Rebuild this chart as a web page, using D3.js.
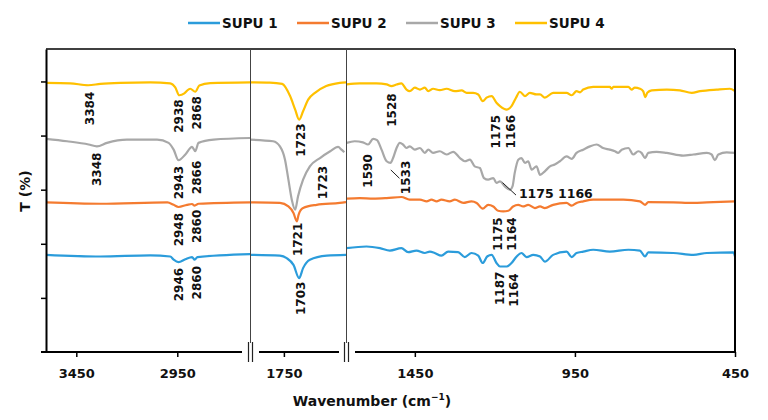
<!DOCTYPE html>
<html>
<head>
<meta charset="utf-8">
<script src="https://cdn.jsdelivr.net/npm/d3@7"></script>
<style>
  body { margin: 0; background: #fff; }
  svg text { font-family: "DejaVu Sans", Verdana, sans-serif; font-weight: bold; fill: #111; }
</style>
</head>
<body>
<script>
var series = ["SUPU 1", "SUPU 2", "SUPU 3", "SUPU 4"];
var colors = ["#2b9cdb", "#f47b30", "#a8a8a8", "#ffc000"];

var tickHigh = [3450, 2950];
var tickMid = [1750];
var tickLow = [1450, 950, 450];

// [wavenumber, T], one array per series and axis segment
var s1High = [[3600,35.9],[3331,35.3],[3084,35.7],[2985,35.3],[2968,34.1],[2944,33.2],[2910,34.3],[2877,35.1],[2864,34.1],[2850,35.1],[2590,36.2]];
var s2High = [[3600,55.3],[3331,54.8],[2999,55.3],[2968,54.4],[2944,53.6],[2902,54.4],[2877,54.7],[2864,54.1],[2845,54.8],[2590,55.3]];
var s3High = [[3600,78.8],[3496,77.9],[3389,76.7],[3348,76.0],[3298,77.3],[3199,78.5],[3050,78.5],[2993,77.3],[2968,74.8],[2944,70.9],[2910,73.0],[2877,75.8],[2861,74.2],[2845,77.3],[2770,78.5],[2590,79.1]];
var s4High = [[3600,99.5],[3480,99.3],[3391,98.6],[3331,99.1],[3232,99.5],[3084,99.7],[2985,99.3],[2960,97.8],[2940,94.9],[2915,95.6],[2895,97.0],[2886,97.3],[2861,96.2],[2841,98.5],[2787,99.4],[2590,99.7]];

var s1Mid = [[1810,35.9],[1757,35.6],[1745,34.7],[1733,32.2],[1723,27.3],[1716,31.0],[1704,34.1],[1674,35.6],[1640,35.9]];
var s2Mid = [[1810,55.3],[1757,55.1],[1742,53.8],[1733,51.4],[1727,48.3],[1724,50.7],[1716,53.2],[1692,54.4],[1651,55.1],[1640,55.4]];
var s3Mid = [[1810,78.5],[1769,77.9],[1757,76.0],[1748,71.1],[1742,63.7],[1736,56.3],[1730,52.6],[1725,57.5],[1716,63.7],[1704,68.6],[1686,71.7],[1668,74.2],[1654,75.8],[1648,74.8],[1643,73.8]];
var s4Mid = [[1810,99.7],[1775,99.6],[1753,99.1],[1739,94.6],[1730,89.6],[1723,85.9],[1716,89.0],[1707,93.3],[1695,95.8],[1675,98.3],[1651,99.5],[1640,99.7]];

var s1Low = [[1663,38.4],[1601,39.0],[1559,38.4],[1528,37.5],[1492,38.4],[1471,36.9],[1445,37.5],[1419,36.6],[1403,37.1],[1388,36.6],[1367,35.6],[1346,37.1],[1315,36.9],[1294,35.1],[1273,36.6],[1252,35.6],[1238,32.9],[1224,35.3],[1210,35.9],[1195,32.9],[1184,31.6],[1163,31.6],[1148,32.9],[1132,35.3],[1117,36.6],[1101,35.1],[1080,35.9],[1059,35.3],[1044,33.4],[1018,35.9],[976,37.1],[960,35.1],[945,36.6],[924,37.1],[893,37.8],[841,37.1],[783,37.8],[747,37.5],[731,35.3],[721,36.8],[643,36.6],[580,35.9],[538,36.6],[455,36.8],[450,35.3]];
var s2Low = [[1663,56.7],[1622,56.9],[1580,56.7],[1538,56.9],[1492,57.3],[1466,56.3],[1434,56.3],[1413,55.7],[1398,56.3],[1382,55.7],[1367,56.3],[1341,55.7],[1325,56.3],[1299,55.1],[1273,55.7],[1257,55.1],[1238,53.0],[1221,54.4],[1205,53.8],[1190,52.2],[1174,52.0],[1158,52.2],[1143,53.8],[1127,54.4],[1112,53.8],[1096,54.4],[1075,53.2],[1059,53.8],[1044,53.2],[1018,54.4],[976,55.1],[960,54.1],[945,55.1],[924,55.7],[893,56.3],[799,56.3],[747,55.7],[731,54.4],[721,55.4],[643,55.3],[580,55.1],[538,55.3],[450,55.7]];
var s3Low = [[1663,77.3],[1638,77.9],[1612,77.5],[1596,76.7],[1580,78.8],[1568,78.3],[1554,74.8],[1538,70.5],[1526,69.9],[1518,71.7],[1507,75.4],[1497,77.3],[1487,76.7],[1476,75.4],[1466,76.0],[1450,74.8],[1434,75.4],[1419,73.6],[1408,74.8],[1393,73.6],[1372,74.2],[1351,73.0],[1330,74.0],[1309,71.7],[1294,70.5],[1278,71.1],[1263,68.6],[1247,68.0],[1234,64.3],[1221,63.7],[1205,64.3],[1195,62.5],[1184,63.1],[1169,61.2],[1153,60.0],[1145,61.2],[1138,66.2],[1127,71.1],[1117,71.7],[1106,69.9],[1096,70.5],[1085,67.4],[1070,68.6],[1059,65.5],[1044,66.8],[1028,68.6],[1013,69.3],[997,70.5],[976,72.3],[960,71.4],[945,73.6],[924,74.8],[903,76.0],[882,76.7],[862,75.4],[841,74.8],[825,74.2],[815,73.6],[804,74.8],[783,75.4],[768,73.0],[752,74.2],[742,73.6],[731,71.7],[721,73.6],[695,74.0],[663,73.6],[612,72.6],[580,73.0],[538,73.6],[523,73.0],[513,70.9],[502,73.0],[476,73.8],[450,73.6]];
var s4Low = [[1663,98.9],[1622,99.3],[1570,99.3],[1538,98.9],[1523,98.3],[1507,98.9],[1492,99.3],[1476,97.0],[1466,96.4],[1450,97.7],[1434,97.0],[1419,97.7],[1408,96.4],[1393,97.3],[1372,96.8],[1351,97.3],[1325,96.4],[1304,96.7],[1288,95.8],[1268,95.8],[1252,95.2],[1238,92.7],[1226,94.0],[1210,94.6],[1195,92.1],[1184,90.9],[1163,89.6],[1148,90.9],[1134,94.0],[1122,96.2],[1106,94.6],[1091,95.8],[1070,95.2],[1059,95.2],[1044,94.0],[1018,95.8],[976,95.8],[960,94.9],[945,96.4],[934,96.0],[924,97.0],[893,98.0],[841,98.0],[835,97.3],[830,98.0],[783,98.0],[773,97.0],[763,97.7],[747,97.3],[737,96.4],[730,94.2],[724,95.8],[710,96.7],[663,97.0],[622,96.7],[585,95.8],[559,96.4],[507,97.0],[466,97.3],[450,96.4]];

// peak labels: text, segment, wavenumber of label centre, T at label top
var peakLabels = [
  ["3384", 0, 3385, 96.2], ["2938", 0, 2941, 93.4], ["2868", 0, 2852, 94.6],
  ["3348", 0, 3348, 73.7], ["2943", 0, 2941, 68.8], ["2866", 0, 2852, 70.7],
  ["2948", 0, 2941, 51.4], ["2860", 0, 2852, 52.6],
  ["2946", 0, 2941, 31.1], ["2860", 0, 2852, 31.8],
  ["1723", 1, 1720, 84.5], ["1723", 1, 1681, 68.8], ["1721", 1, 1725, 47.8], ["1703", 1, 1720, 26.0],
  ["1528", 2, 1521, 95.6], ["1175", 2, 1196, 87.6], ["1166", 2, 1151, 87.6],
  ["1590", 2, 1596, 73.1], ["1533", 2, 1478, 70.7],
  ["1175", 2, 1190, 49.8], ["1164", 2, 1148, 49.8],
  ["1187", 2, 1186, 29.7], ["1164", 2, 1140, 29.1]
];
var flatLabel = ["1175 1166", 1125, 56.9];
var leaders = [[1525, 67.3, 1498, 64.2], [1176, 62.6, 1134, 58.0]];

var W = 768, H = 420;
var plotTop = 49, plotBottom = 352, plotLeft = 46, plotRight = 735;

var svg = d3.select("body")
  .append("svg")
    .attr("width", W)
    .attr("height", H);

var y = d3.scaleLinear().domain([0, 112]).range([plotBottom, plotTop]);

var segs = [
  { x: d3.scaleLinear().domain([3600, 2590]).range([plotLeft, 250]), data: [s1High, s2High, s3High, s4High], ticks: tickHigh, line: [41, 242] },
  { x: d3.scaleLinear().domain([1810, 1640]).range([250, 346]), data: [s1Mid, s2Mid, s3Mid, s4Mid], ticks: tickMid, line: [259, 339] },
  { x: d3.scaleLinear().domain([1665, 450]).range([346, plotRight]), data: [s1Low, s2Low, s3Low, s4Low], ticks: tickLow, line: [355, plotRight] }
];

var defs = svg.append("defs");

segs.forEach(function(seg, k) {
  var r = seg.x.range();
  defs.append("clipPath")
    .attr("id", "clip" + k)
    .append("rect")
      .attr("x", r[0])
      .attr("y", plotTop)
      .attr("width", r[1] - r[0])
      .attr("height", plotBottom - plotTop);

  var line = d3.line()
    .x(function(d) { return seg.x(d[0]); })
    .y(function(d) { return y(d[1]); })
    .curve(d3.curveMonotoneX);

  var g = svg.append("g").attr("clip-path", "url(#clip" + k + ")");
  seg.data.forEach(function(d, i) {
    g.append("path")
      .attr("d", line(d))
      .attr("fill", "none")
      .attr("stroke", colors[i])
      .attr("stroke-width", 2.2)
      .attr("stroke-linejoin", "round");
  });

  // x axis, ticks only, the baseline is drawn as a segment
  var ax = svg.append("g")
    .attr("transform", "translate(0," + plotBottom + ")")
    .call(d3.axisBottom(seg.x).tickValues(seg.ticks).tickFormat(d3.format("d")).tickSize(5).tickPadding(12));
  ax.select(".domain").remove();
  ax.selectAll(".tick line").attr("stroke", "#000").attr("stroke-width", 1.5);
  ax.selectAll(".tick text")
    .attr("font-size", 13)
    .style("font-family", "'DejaVu Sans', Verdana, sans-serif")
    .style("font-weight", "bold")
    .attr("fill", "#111");

  svg.append("line")
    .attr("x1", seg.line[0])
    .attr("x2", seg.line[1])
    .attr("y1", plotBottom)
    .attr("y2", plotBottom)
    .attr("stroke", "#000")
    .attr("stroke-width", 2);
});

// frame
svg.append("line")
  .attr("x1", plotLeft).attr("x2", plotRight)
  .attr("y1", plotTop).attr("y2", plotTop)
  .attr("stroke", "#000").attr("stroke-width", 1.5);
svg.append("line")
  .attr("x1", plotRight).attr("x2", plotRight)
  .attr("y1", plotTop).attr("y2", plotBottom)
  .attr("stroke", "#000").attr("stroke-width", 2);

var yAxis = svg.append("g")
  .attr("transform", "translate(" + plotLeft + ",0)")
  .call(d3.axisLeft(y).tickValues([20, 40, 60, 80, 100]).tickSize(5).tickSizeOuter(0).tickFormat(""));
yAxis.select(".domain").attr("stroke", "#000").attr("stroke-width", 2);
yAxis.selectAll(".tick line").attr("stroke", "#000").attr("stroke-width", 1.5);

// breaks between segments
[250, 346].forEach(function(bx) {
  svg.append("line")
    .attr("x1", bx + 0.5).attr("x2", bx + 0.5)
    .attr("y1", plotTop).attr("y2", 343)
    .attr("stroke", "#444").attr("stroke-width", 1);
  [-2, 2].forEach(function(o) {
    svg.append("line")
      .attr("x1", bx + o + 0.5).attr("x2", bx + o + 0.5)
      .attr("y1", 342).attr("y2", 362)
      .attr("stroke", "#222").attr("stroke-width", 1.2);
  });
});

// peak labels
peakLabels.forEach(function(p) {
  var px = segs[p[1]].x(p[2]);
  var py = y(p[3]);
  svg.append("text")
    .attr("transform", "translate(" + px + "," + py + ") rotate(-90)")
    .attr("text-anchor", "end")
    .attr("dy", "0.36em")
    .attr("font-size", 12)
    .text(p[0]);
});

svg.append("text")
  .attr("x", segs[2].x(flatLabel[1]))
  .attr("y", y(flatLabel[2]))
  .attr("font-size", 12.5)
  .text(flatLabel[0]);

leaders.forEach(function(l) {
  svg.append("line")
    .attr("x1", segs[2].x(l[0])).attr("y1", y(l[1]))
    .attr("x2", segs[2].x(l[2])).attr("y2", y(l[3]))
    .attr("stroke", "#222").attr("stroke-width", 1);
});

// axis titles
var xt = svg.append("text")
  .attr("x", 372)
  .attr("y", 406)
  .attr("text-anchor", "middle")
  .attr("font-size", 14);
xt.append("tspan").text("Wavenumber (cm");
xt.append("tspan").attr("font-size", 9).attr("dy", -6).text("\u22121");
xt.append("tspan").attr("dy", 6).text(")");

svg.append("text")
  .attr("transform", "translate(30,191) rotate(-90)")
  .attr("text-anchor", "middle")
  .attr("font-size", 14)
  .text("T (%)");

// legend
var legend = svg.append("g");
series.forEach(function(s, i) {
  var lx = 188 + i * 109;
  legend.append("line")
    .attr("x1", lx).attr("x2", lx + 32)
    .attr("y1", 23).attr("y2", 23)
    .attr("stroke", colors[i])
    .attr("stroke-width", 2.5);
  legend.append("text")
    .attr("x", lx + 34)
    .attr("y", 28)
    .attr("font-size", 13.5)
    .text(s);
});
</script>
</body>
</html>
